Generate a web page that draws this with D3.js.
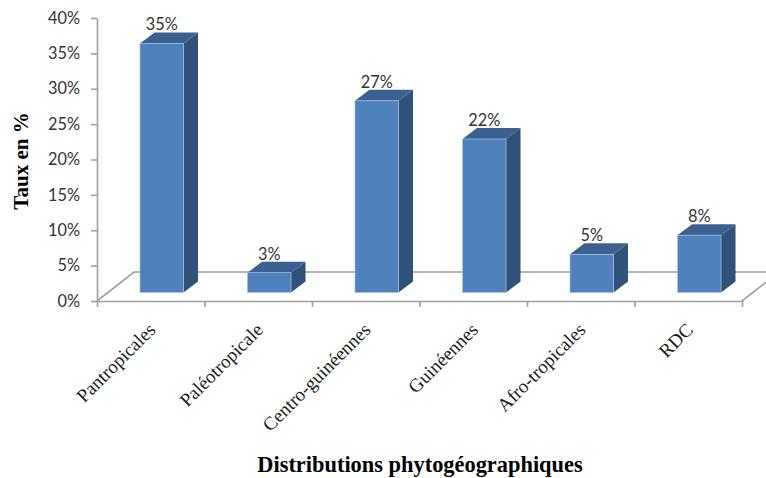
<!DOCTYPE html>
<html>
<head>
<meta charset="utf-8">
<script src="https://cdn.jsdelivr.net/npm/d3@7"></script>
<style>
	html, body { margin: 0; padding: 0; background: #fff; }
	svg { display: block; }
	.axis path, .axis line { stroke: #a0a0a0; stroke-width: 1.6px; }
	.num { font-family: Lato, sans-serif; font-size: 16.3px; fill: #333; }
	.cat { font-family: "Liberation Serif", serif; font-size: 19px; fill: #1a1a1a; }
	.title { font-family: "Liberation Serif", serif; font-size: 22.4px; font-weight: bold; fill: #000; }
</style>
</head>
<body>
<svg width="766" height="478"></svg>
<script>
var categories = ["Pantropicales", "Paléotropicale", "Centro-guinéennes", "Guinéennes", "Afro-tropicales", "RDC"];
var values = [35.2, 2.8, 27.1, 21.7, 5.4, 8.1];
var yTicks = [0, 5, 10, 15, 20, 25, 30, 35, 40];

var svg = d3.select("svg");
var left = 97, right = 742, top_ = 18, bottom = 301;

// 3d offsets, floor goes back further than the bars do
var floorDx = 37, floorDy = -29;
var barDx = 14.5, barDy = -11, barLift = 8.5, barShift = 11;

var y = d3.scaleLinear().domain([0, 40]).range([bottom, top_]);
var x = d3.scaleBand().domain(categories).range([left, right]).paddingInner(0.595).paddingOuter(0.2975);
var edges = d3.scaleLinear().domain([0, categories.length]).range([left, right]);

// floor
var floor = svg.append("g").attr("fill", "none").attr("stroke", "#a0a0a0").attr("stroke-width", 1.6);
floor.append("path").attr("d", d3.line()([[left, bottom], [left + floorDx, bottom + floorDy], [766, bottom + floorDy]]));
floor.append("path").attr("d", d3.line()([[right, bottom], [right + floorDx, bottom + floorDy]]));

// axes
svg.append("g")
	.attr("class", "axis")
	.attr("transform", "translate(" + left + ",0)")
	.call(d3.axisLeft(y).tickValues(yTicks).tickSize(6).tickPadding(11).tickSizeOuter(0).tickFormat(function(d) { return d + "%"; }))
	.selectAll("text")
	.attr("class", "num")
	.attr("fill", null);

svg.append("g")
	.attr("class", "axis")
	.attr("transform", "translate(0," + bottom + ")")
	.call(d3.axisBottom(edges).ticks(categories.length).tickSize(6).tickSizeOuter(0).tickFormat(""));

// bars
var bars = svg.selectAll(".bar")
	.data(categories)
	.enter().append("g")
	.attr("class", "bar")
	.attr("transform", function(d) { return "translate(" + (x(d) + barShift) + "," + (-barLift) + ")"; });

function topOf(i) { return y(values[i]); }

bars.append("path")
	.attr("fill", "#30527a")
	.attr("d", function(d, i) {
		var w = x.bandwidth();
		return d3.line()([[w, topOf(i)], [w + barDx, topOf(i) + barDy], [w + barDx, bottom + barDy], [w, bottom]]);
	});

bars.append("path")
	.attr("fill", "#3c6190")
	.attr("d", function(d, i) {
		var w = x.bandwidth();
		return d3.line()([[0, topOf(i)], [barDx, topOf(i) + barDy], [w + barDx, topOf(i) + barDy], [w, topOf(i)]]);
	});

bars.append("rect")
	.attr("fill", "#4f81bd")
	.attr("stroke", "#a9c3e3")
	.attr("stroke-width", 0.7)
	.attr("width", x.bandwidth())
	.attr("y", function(d, i) { return topOf(i); })
	.attr("height", function(d, i) { return bottom - topOf(i); });

// value labels
bars.append("text")
	.attr("class", "num")
	.attr("x", x.bandwidth() / 2)
	.attr("y", function(d, i) { return topOf(i) + barDy - 2; })
	.attr("text-anchor", "middle")
	.text(function(d, i) { return Math.round(values[i]) + "%"; });

// category labels
svg.selectAll(".cat")
	.data(categories)
	.enter().append("text")
	.attr("class", "cat")
	.attr("text-anchor", "end")
	.attr("transform", function(d) {
		return "translate(" + (x(d) + x.bandwidth() / 2 + 6) + ",331) rotate(-45)";
	})
	.text(function(d) { return d; });

// axis titles
svg.append("text")
	.attr("class", "title")
	.attr("text-anchor", "middle")
	.attr("transform", "translate(28,161) rotate(-90)")
	.style("font-size", "21px")
	.text("Taux en %");

svg.append("text")
	.attr("class", "title")
	.attr("text-anchor", "middle")
	.attr("x", 420)
	.attr("y", 472)
	.text("Distributions phytogéographiques");
</script>
</body>
</html>
